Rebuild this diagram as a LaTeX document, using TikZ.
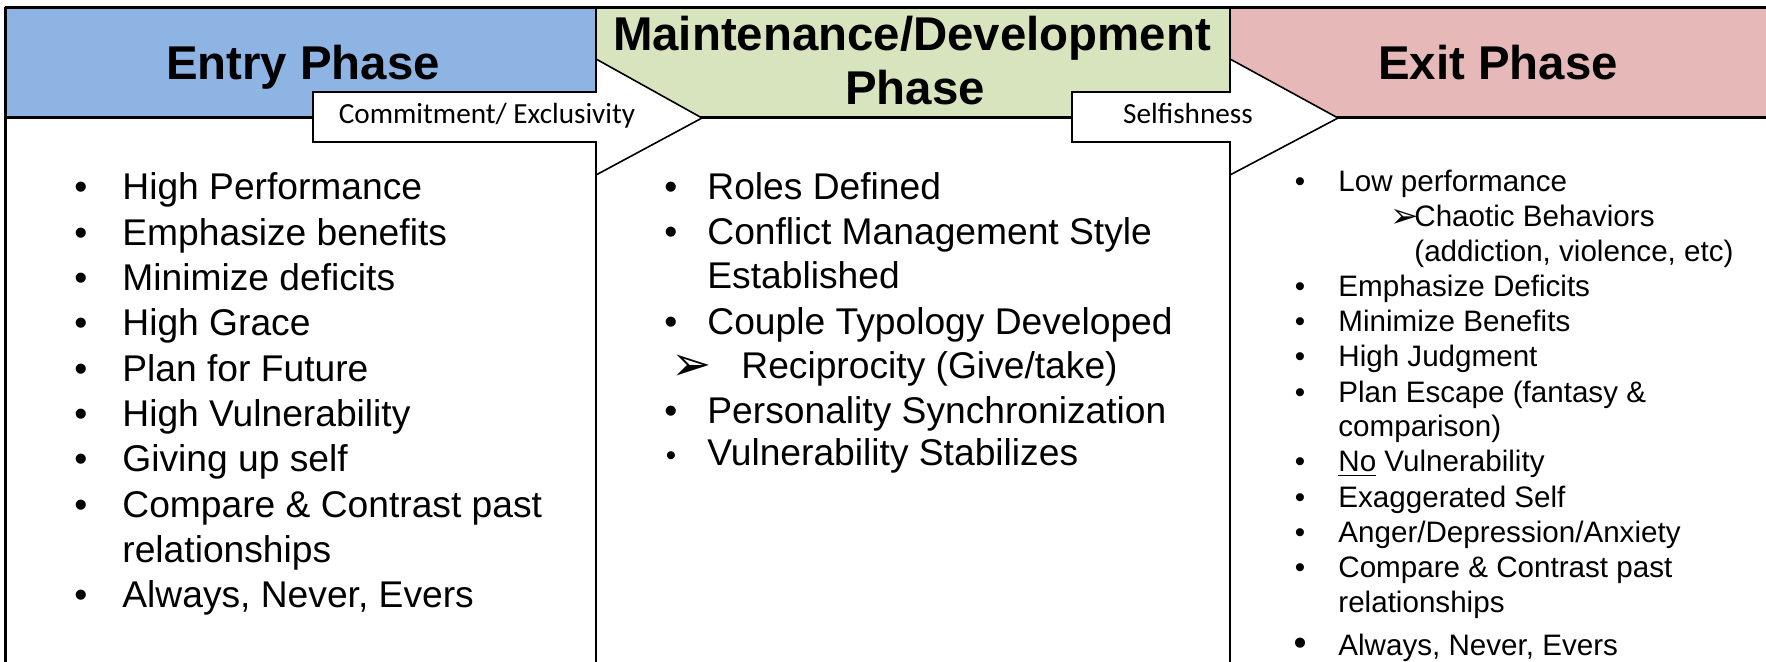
\documentclass[tikz,border=0pt]{standalone}
\usepackage{fontspec}
\setmainfont{Liberation Sans}
\newfontfamily\calib{Carlito}
\newfontfamily\dejavu{DejaVu Sans}
\definecolor{entryblue}{HTML}{8EB4E3}
\definecolor{maingreen}{HTML}{D7E4BD}
\definecolor{exitpink}{HTML}{E6B9B8}
\begin{document}
\begin{tikzpicture}[x=0.5pt,y=-0.5pt,
  hdr/.style={font=\fontsize{23.7}{28}\selectfont\bfseries, anchor=base, inner sep=0pt},
  big/.style={font=\fontsize{18.6}{22}\selectfont, anchor=base west, inner sep=0pt},
  bigdot/.style={font=\fontsize{18.6}{22}\selectfont, anchor=base, inner sep=0pt},
  small/.style={font=\fontsize{14.8}{17.5}\selectfont, anchor=base west, inner sep=0pt},
  smalldot/.style={font=\fontsize{14.8}{17.5}\selectfont, anchor=base, inner sep=0pt},
  lbl/.style={font=\calib\fontsize{14.6}{17}\selectfont, anchor=base, inner sep=0pt},
  arrowshape/.style={fill=white, draw=black, line width=0.8pt, line join=miter},
  frameline/.style={draw=black, line width=1.5pt},
  colline/.style={draw=black, line width=1.1pt},
]
\useasboundingbox (0,0) rectangle (1766,662);
% header fills
\fill[entryblue] (5,8) rectangle (596,118);
\fill[maingreen] (596,8) rectangle (1230,118);
\fill[exitpink] (1230,8) rectangle (1766,118);
% frame and column lines
\draw[colline] (596,8) -- (596,662);
\draw[colline] (1230,8) -- (1230,662);
\draw[frameline] (5,118) -- (1766,118);
\draw[frameline] (5,8) -- (1766,8);
\draw[frameline] (5,7.3) -- (5,662);
% arrows
\draw[arrowshape] (313,92) -- (596,92) -- (596,59) -- (702,118) -- (596,175) -- (596,142) -- (313,142) -- cycle;
\draw[arrowshape] (1072,92) -- (1230,92) -- (1230,59) -- (1338,118) -- (1230,175) -- (1230,142) -- (1072,142) -- cycle;
\node[lbl] (a1) at (487,124) {Commitment/ Exclusivity};
\node[lbl] (a2) at (1188,124) {Selfishness};
% headers
\node[hdr] (h1) at (303,80) {Entry Phase};
\node[hdr] (h2a) at (912,51) {Maintenance/Development};
\node[hdr] (h2b) at (915,105) {Phase};
\node[hdr] (h3) at (1498,80) {Exit Phase};
% entry column
\foreach \i/\t [count=\k] in {0/High Performance,1/Emphasize benefits,2/Minimize deficits,3/High Grace,4/Plan for Future,5/High Vulnerability,6/Giving up self}{
  \node[bigdot] (eb\k) at (81,200+45.3*\i) {•};
  \node[big] (e\k) at (122,200+45.3*\i) {\t};
}
\node[bigdot] (eb8) at (81,200+45.3*7) {•};
\node[big] (e8) at (122,200+45.3*7) {Compare \& Contrast past};
\node[big] (e8b) at (122,200+45.3*8) {relationships};
\node[bigdot] (eb9) at (81,200+45.3*9) {•};
\node[big] (e9) at (122,200+45.3*9) {Always, Never, Evers};
% middle column
\node[bigdot] (mb1) at (671,200) {•};
\node[big] (m1) at (707,200) {Roles Defined};
\node[bigdot] (mb2) at (671,245) {•};
\node[big] (m2) at (707,245) {Conflict Management Style};
\node[big] (m2b) at (707,289) {Established};
\node[bigdot] (mb3) at (671,335) {•};
\node[big] (m3) at (707,335) {Couple Typology Developed};
\node[big] (mar) at (671,381) {\dejavu\fontsize{24}{28}\selectfont ➢};
\node[big] (m3b) at (741,379) {Reciprocity (Give/take)};
\node[bigdot] (mb4) at (671,423) {•};
\node[big] (m4) at (707,423) {Personality Synchronization};
\node[smalldot] (mb5) at (671,466) {•};
\node[big] (m5) at (707,466) {Vulnerability Stabilizes};
% exit column
\node[smalldot] (xb1) at (1300,192) {•};
\node[small] (x1) at (1338,192) {Low performance};
\node[small] (xar) at (1390,228) {\dejavu\fontsize{17}{20}\selectfont ➢};
\node[small] (x1b) at (1414,227) {Chaotic Behaviors};
\node[small] (x1c) at (1414,262) {(addiction, violence, etc)};
\node[smalldot] (xb2) at (1300,297) {•};
\node[small] (x2) at (1338,297) {Emphasize Deficits};
\node[smalldot] (xb3) at (1300,332) {•};
\node[small] (x3) at (1338,332) {Minimize Benefits};
\node[smalldot] (xb4) at (1300,367) {•};
\node[small] (x4) at (1338,367) {High Judgment};
\node[smalldot] (xb5) at (1300,402) {•};
\node[small] (x5) at (1338,402) {Plan Escape (fantasy \&};
\node[small] (x5b) at (1338,437) {comparison)};
\node[smalldot] (xb6) at (1300,472) {•};
\node[small] (x6) at (1338,472) {\underline{No} Vulnerability};
\node[smalldot] (xb7) at (1300,507) {•};
\node[small] (x7) at (1338,507) {Exaggerated Self};
\node[smalldot] (xb8) at (1300,542) {•};
\node[small] (x8) at (1338,542) {Anger/Depression/Anxiety};
\node[smalldot] (xb9) at (1300,577) {•};
\node[small] (x9) at (1338,577) {Compare \& Contrast past};
\node[small] (x9b) at (1338,612) {relationships};
\node[bigdot] (xb10) at (1300,655) {•};
\node[small] (x10) at (1338,655) {Always, Never, Evers};
\end{tikzpicture}
\end{document}
